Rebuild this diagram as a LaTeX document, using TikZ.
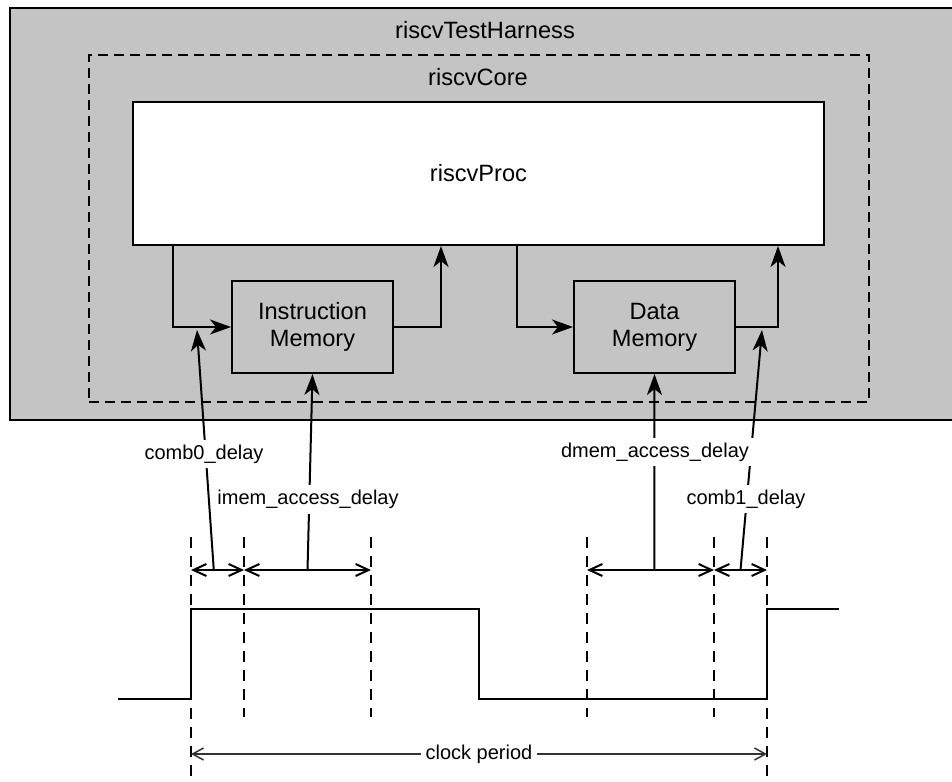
\documentclass[tikz,border=0pt]{standalone}
\usepackage{fontspec}
\setmainfont{Liberation Sans}
\usetikzlibrary{arrows.meta, calc}
\definecolor{harnessgray}{RGB}{196, 196, 196}

\tikzset{
  blockfont/.style={font=\fontsize{11.8}{13.5}\selectfont},
  blockbox/.style={draw, line width=1pt, inner sep=0pt, align=center, blockfont},
  flow/.style={line width=1pt, -{Stealth[length=10.5pt, width=7.5pt, inset=3pt]}},
  dimarrow/.style={line width=1pt, {Straight Barb[length=6.5pt, width=6pt]}-{Straight Barb[length=6.5pt, width=6pt]}},
  timemark/.style={line width=1pt, dash pattern=on 5.5pt off 4pt},
  delaylabel/.style={fill=white, inner sep=2.5pt, font=\fontsize{10}{12}\selectfont},
}

\begin{document}
\begin{tikzpicture}[x=0.5pt, y=-0.5pt]
  \useasboundingbox (0, 0) rectangle (952, 781);

  \node[blockbox, fill=harnessgray, minimum width=473pt, minimum height=206pt] (harness) at (483, 214) {};
  \node[blockfont] (harnesslbl) at (485, 30.5) {riscvTestHarness};
  \node[blockbox, dash pattern=on 5pt off 3pt, minimum width=390pt, minimum height=173.5pt] (core) at (479, 228.5) {};
  \node[blockfont] (corelbl) at (478, 77.5) {riscvCore};

  \node[blockbox, fill=white, minimum width=345.5pt, minimum height=71.5pt] (proc) at (478.5, 173.5) {riscvProc};
  \node[blockbox, minimum width=80.5pt, minimum height=46pt] (imem) at (312.5, 327) {Instruction\\Memory};
  \node[blockbox, minimum width=80.5pt, minimum height=46pt] (dmem) at (654.5, 327) {Data\\Memory};

  \draw[flow] ($(proc.south west)+(41, 0)$) |- (imem.west);
  \draw[flow] (imem.east) -| ($(proc.south west)+(309, 0)$);
  \draw[flow] ($(proc.south west)+(385, 0)$) |- (dmem.west);
  \draw[flow] (dmem.east) -| ($(proc.south west)+(646, 0)$);

  \draw[line width=1pt] (118, 699) -| (191, 609) -| (479, 699) -| (767, 609) -- (839, 609);

  \foreach \x in {191, 767} {
    \draw[timemark] (\x, 537) -- (\x, 781);
  }
  \foreach \x in {244, 371, 587, 714} {
    \draw[timemark] (\x, 537) -- (\x, 717);
  }

  \coordinate (t0) at (191, 570);
  \coordinate (t1) at (244, 570);
  \coordinate (t2) at (371, 570);
  \coordinate (t3) at (587, 570);
  \coordinate (t4) at (714, 570);
  \coordinate (t5) at (767, 570);
  \draw[dimarrow] (t0) -- (t1);
  \draw[dimarrow] (t1) -- (t2);
  \draw[dimarrow] (t3) -- (t4);
  \draw[dimarrow] (t4) -- (t5);

  \coordinate (comb0tip) at (197, 330);
  \coordinate (comb1tip) at (762, 330);
  \draw[flow] ($(t0)!0.43!(t1)$) -- (comb0tip);
  \draw[flow] ($(t1)!0.5!(t2)$) -- (imem.south);
  \draw[flow] ($(t3)!0.53!(t4)$) -- (dmem.south);
  \draw[flow] ($(t4)!0.5!(t5)$) -- (comb1tip);

  \node[delaylabel] (comb0lbl) at (204, 454) {comb0\_delay};
  \node[delaylabel] (imemlbl) at (308, 499.5) {imem\_access\_delay};
  \node[delaylabel] (dmemlbl) at (655, 452) {dmem\_access\_delay};
  \node[delaylabel] (comb1lbl) at (746, 499) {comb1\_delay};

  \coordinate (p0) at (191, 754);
  \coordinate (p1) at (767, 754);
  \draw[line width=0.75pt, black!80, {Straight Barb[length=5.5pt, width=6pt]}-{Straight Barb[length=5.5pt, width=6pt]}] (p0) -- (p1);
  \node[delaylabel] (periodlbl) at ($(p0)!0.5!(p1)$) {clock period};
\end{tikzpicture}
\end{document}
